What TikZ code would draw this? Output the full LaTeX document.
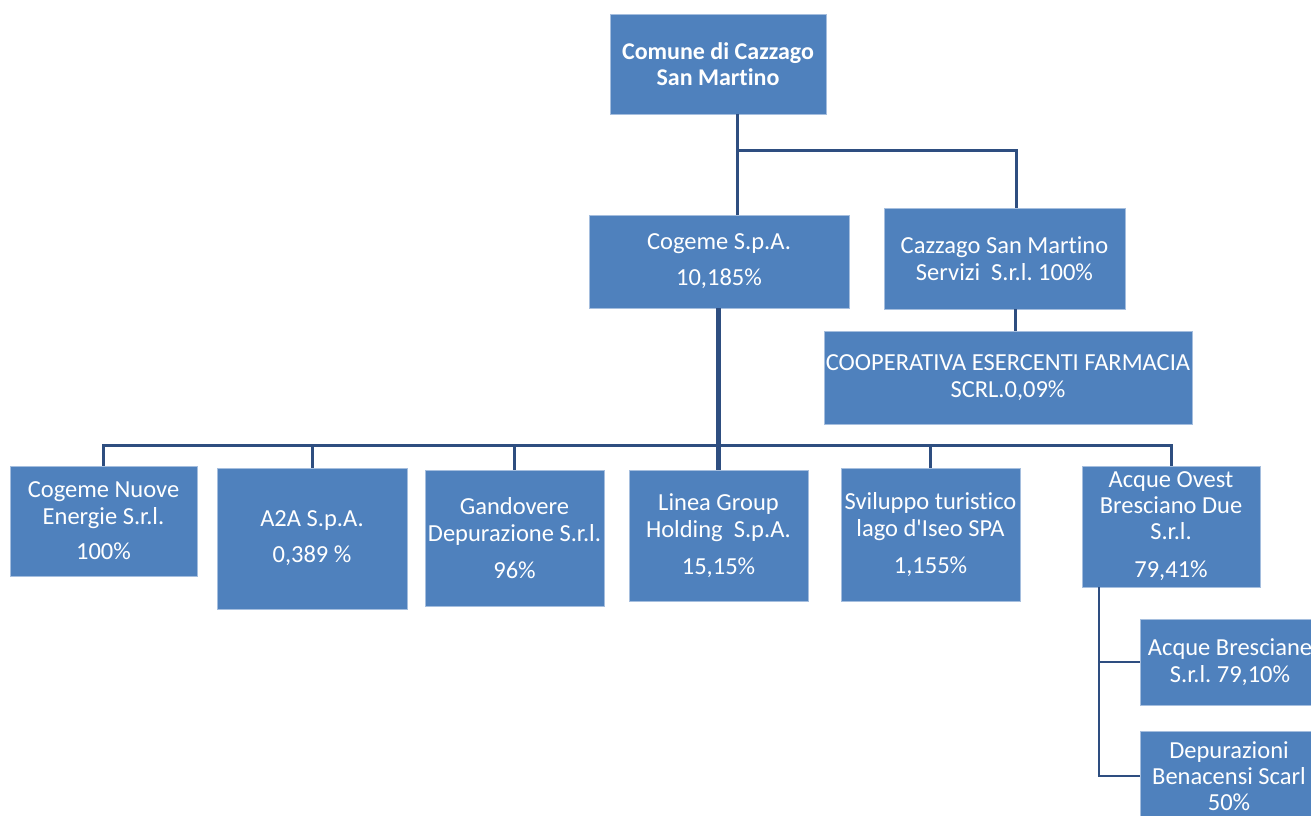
\documentclass[tikz,border=0pt]{standalone}
\usepackage{fontspec}
\setmainfont{Carlito}[Ligatures=NoCommon]
\frenchspacing
\definecolor{boxblue}{RGB}{79,129,189}
\definecolor{boxedge}{RGB}{165,190,222}
\definecolor{linkblue}{RGB}{46,78,128}
\tikzset{
  orgbox/.style={rectangle,fill=boxblue,draw=boxedge,line width=0.8pt,text=white,align=center,inner sep=1pt,
    font=\fontsize{24.5}{27}\selectfont\frenchspacing},
  conn/.style={draw=linkblue,line width=3pt},
}
\begin{document}
\begin{tikzpicture}[x=1pt,y=-1pt]
  \useasboundingbox (0,0) rectangle (1311,815);
  \clip (0,0) rectangle (1311,815);
  \begin{scope}[every node/.style={orgbox}]
    \node[minimum width=216pt,minimum height=100pt,font=\fontsize{24}{26}\selectfont\bfseries] (comune) at (718,64) {Comune di Cazzago\\San Martino};
    \node[minimum width=260pt,minimum height=93pt] (cogeme) at (719,261.5) {Cogeme S.p.A.\\[9pt]10,185\%};
    \node[minimum width=241pt,minimum height=101pt] (cazsrv) at (1004.5,258.5) {Cazzago San Martino\\Servizi\ \ S.r.l. 100\%};
    \node[minimum width=368pt,minimum height=93pt] (coop) at (1008,377.5) {COOPERATIVA ESERCENTI FARMACIA\\SCRL.0,09\%};
    \node[minimum width=187pt,minimum height=110pt] (cne) at (103.5,521) {Cogeme Nuove\\Energie S.r.l.\\[8pt]100\%};
    \node[minimum width=190pt,minimum height=141pt] (a2a) at (312,538.5) {A2A S.p.A.\\[9pt]0,389 \%};
    \node[minimum width=179pt,minimum height=136pt] (gand) at (514.5,538) {Gandovere\\Depurazione S.r.l.\\[10pt]96\%};
    \node[minimum width=179pt,minimum height=131pt] (linea) at (718.5,535.5) {Linea Group\\Holding\ \ S.p.A.\\[10pt]15,15\%};
    \node[minimum width=179pt,minimum height=133pt] (svil) at (930.5,534.5) {Sviluppo turistico\\lago d\textquotesingle Iseo SPA\\[10pt]1,155\%};
    \node[minimum width=178pt,minimum height=121pt,font=\fontsize{24.5}{26}\selectfont] (aob) at (1171,526.5) {Acque Ovest\\Bresciano Due\\S.r.l.\\[12pt]79,41\%};
    \node[minimum width=180pt,minimum height=86pt] (abr) at (1230,662) {Acque Bresciane\\S.r.l. 79,10\%};
    \node[minimum width=178pt,minimum height=90pt,font=\fontsize{24.5}{26}\selectfont] (depb) at (1229,776) {Depurazioni\\Benacensi Scarl\\50\%};
  \end{scope}
  % junctions
  \coordinate (top) at (737,150);
  \coordinate (bar) at (718,445);
  \coordinate (sub) at (1099,776);
  % top level
  \draw[conn] (comune.south -| top) -- (top) -- (cogeme.north -| top);
  \draw[conn] (top) -| (cazsrv.north -| 1016,0);
  \draw[conn] (cazsrv.south -| 1015,0) -- (coop.north -| 1015,0);
  % participations of Cogeme
  \draw[conn,line width=5pt] (cogeme.south -| bar) -- (linea.north -| bar);
  \draw[conn] (cne.north) |- (bar) -| (aob.north);
  \foreach \n in {a2a,gand,svil}
    \draw[conn] (\n.north) -- (\n.north |- bar);
  % Acque Ovest Bresciano Due
  \draw[conn,line width=2.5pt] (aob.south -| sub) -- (sub) -- (depb.west);
  \draw[conn,line width=2.5pt] (abr.west) -- (abr.west -| sub);
\end{tikzpicture}
\end{document}
